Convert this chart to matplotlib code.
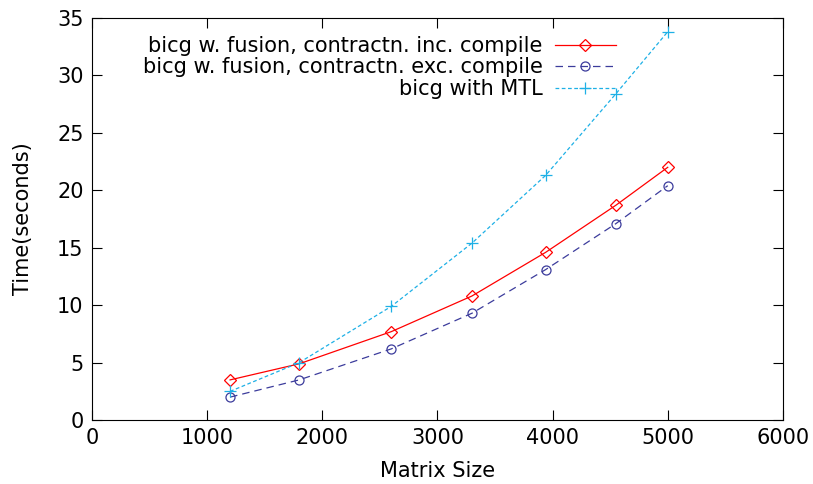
import matplotlib
matplotlib.use("Agg")
import matplotlib.pyplot as plt

matrix_size = [1200, 1800, 2600, 3300, 3940, 4550, 5000]
inc_compile = [3.5, 4.9, 7.7, 10.8, 14.6, 18.7, 22.0]
exc_compile = [2.0, 3.5, 6.2, 9.3, 13.1, 17.1, 20.4]
mtl = [2.5, 5.0, 9.9, 15.4, 21.3, 28.4, 33.8]

labels = ["bicg w. fusion, contractn. inc. compile",
          "bicg w. fusion, contractn. exc. compile",
          "bicg with MTL"]

plt.rcParams['font.family'] = ['DejaVu Sans']
plt.rcParams['font.size'] = 15

fig = plt.figure(figsize=(8.13, 4.84), dpi=100)
ax = fig.add_axes([0.113, 0.132, 0.850, 0.831])

ax.plot(matrix_size, inc_compile, color="#ff0000", lw=0.9, marker="D",
        markersize=6, markerfacecolor="none", markeredgewidth=0.9, label=labels[0])
ax.plot(matrix_size, exc_compile, color="#3c3c9c", lw=0.9, ls=(0, (6, 4)), marker="o",
        markersize=6.5, markerfacecolor="none", markeredgewidth=0.9, label=labels[1])
ax.plot(matrix_size, mtl, color="#1eb0e6", lw=0.9, ls=(0, (3, 2)), marker="+",
        markersize=8, markeredgewidth=0.9, label=labels[2])

ax.set_xlim(0, 6000)
ax.set_ylim(0, 35)
ax.set_xticks(range(0, 6001, 1000))
ax.set_yticks(range(0, 36, 5))
ax.tick_params(direction="in", top=True, right=True, length=7, width=0.8, pad=6)
for s in ax.spines.values():
    s.set_linewidth(0.8)

ax.set_xlabel("Matrix Size", labelpad=9)
ax.set_ylabel("Time(seconds)", labelpad=17)

ax.legend(loc="upper right", bbox_to_anchor=(0.758, 0.955), frameon=False,
          markerfirst=False, handlelength=2.9, handletextpad=0.6,
          labelspacing=0.07, borderaxespad=0, borderpad=0)

fig.savefig("out.png", dpi=100)
